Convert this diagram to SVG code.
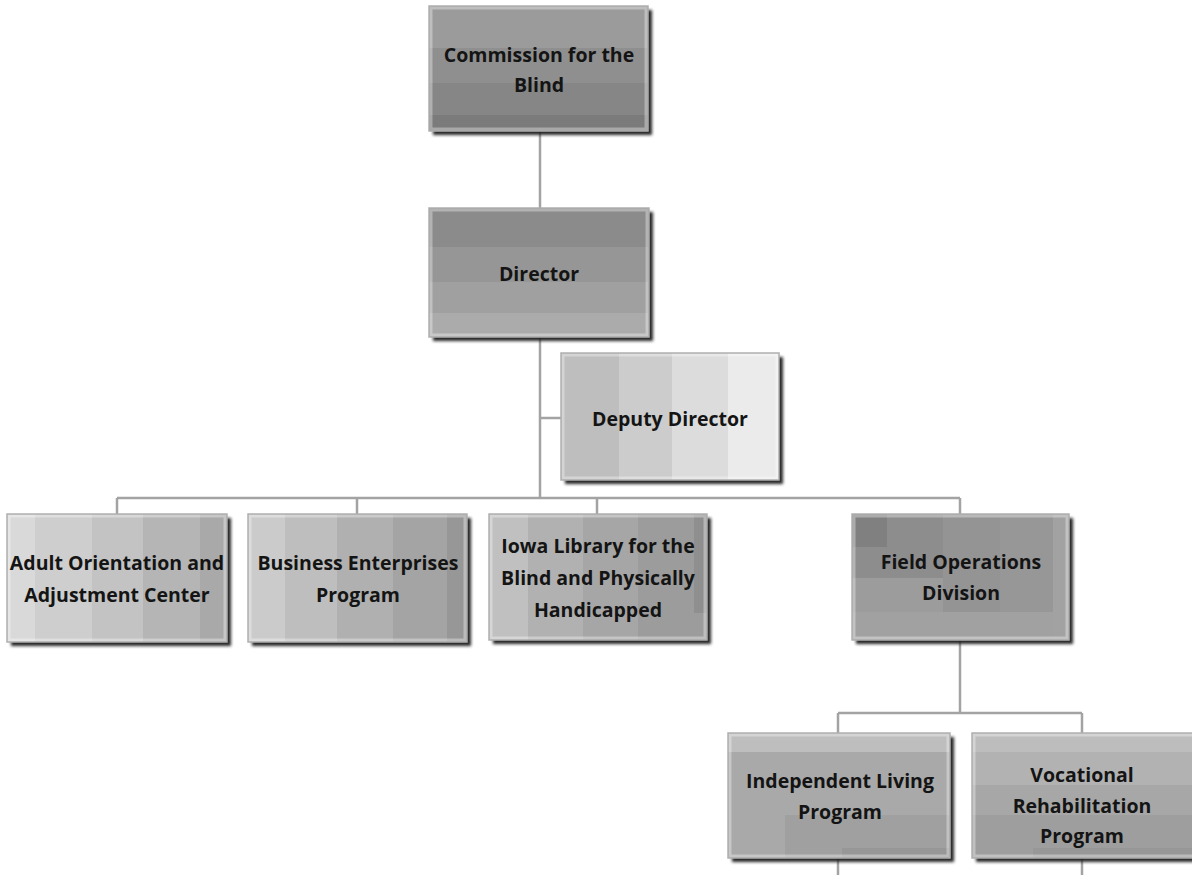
<svg xmlns="http://www.w3.org/2000/svg" width="1192" height="875" viewBox="0 0 1192 875">
<defs>
<filter id="sh" x="-10%" y="-10%" width="130%" height="130%">
<feGaussianBlur in="SourceAlpha" stdDeviation="1.8"/>
<feOffset dx="4" dy="4" result="b"/>
<feFlood flood-color="#1e1e1e" flood-opacity="0.95"/>
<feComposite in2="b" operator="in"/>
</filter>
</defs>
<style>
.sh{fill:#000;filter:url(#sh)}
.hl{fill:none;stroke:#ffffff;stroke-opacity:0.35;stroke-width:3}
.bd{fill:none;stroke:#b0b0b0;stroke-width:1.5}
.t{font-family:"Open Sans","Noto Sans",sans-serif;font-weight:700;font-size:19.5px;fill:#141414;text-anchor:middle}
.c{stroke:#a3a3a3;stroke-width:2.5;fill:none}
</style>
<rect width="1192" height="875" fill="#ffffff"/>

<g id="connectors">
<path class="c" d="M540 131V208M540 337V498M540 418H561M117 498H960M117 498V514M357 498V514M597 498V514M960 498V514M960 640V713M838 713H1082M838 713V733M1082 713V733M838 858V875M1082 858V875"/>
</g>

<g id="commission">
<rect class="sh" x="429" y="6" width="219" height="125"/>
<rect x="429" y="6" width="219" height="42" fill="#9b9b9b"/>
<rect x="429" y="48" width="219" height="35" fill="#8f8f8f"/>
<rect x="429" y="83" width="219" height="32" fill="#868686"/>
<rect x="429" y="115" width="219" height="16" fill="#7b7b7b"/>
<rect class="hl" x="431" y="8" width="215" height="121"/>
<rect class="bd" x="429" y="6" width="219" height="125"/>
<text class="t" x="539" y="62">Commission for the</text>
<text class="t" x="539" y="92">Blind</text>
</g>

<g id="director">
<rect class="sh" x="429" y="208" width="220" height="129"/>
<rect x="429" y="208" width="220" height="39" fill="#8b8b8b"/>
<rect x="429" y="247" width="220" height="35" fill="#969696"/>
<rect x="429" y="282" width="220" height="31" fill="#a0a0a0"/>
<rect x="429" y="313" width="220" height="24" fill="#ababab"/>
<rect class="hl" x="431" y="210" width="216" height="125"/>
<rect class="bd" x="429" y="208" width="220" height="129"/>
<text class="t" x="539" y="281">Director</text>
</g>

<g id="deputy">
<rect class="sh" x="561" y="353" width="218" height="127"/>
<rect x="561" y="353" width="58" height="127" fill="#bebebe"/>
<rect x="619" y="353" width="53" height="127" fill="#cccccc"/>
<rect x="672" y="353" width="56" height="127" fill="#dcdcdc"/>
<rect x="728" y="353" width="51" height="127" fill="#ebebeb"/>
<rect class="hl" x="563" y="355" width="214" height="123"/>
<rect class="bd" x="561" y="353" width="218" height="127"/>
<text class="t" x="670" y="426">Deputy Director</text>
</g>

<g id="adult">
<rect class="sh" x="7" y="514" width="220" height="128"/>
<rect x="7" y="514" width="28" height="128" fill="#d9d9d9"/>
<rect x="35" y="514" width="57" height="128" fill="#cecece"/>
<rect x="92" y="514" width="51" height="128" fill="#c3c3c3"/>
<rect x="143" y="514" width="57" height="128" fill="#b5b5b5"/>
<rect x="200" y="514" width="27" height="128" fill="#a9a9a9"/>
<rect class="hl" x="9" y="516" width="216" height="124"/>
<rect class="bd" x="7" y="514" width="220" height="128"/>
<text class="t" x="117" y="570">Adult Orientation and</text>
<text class="t" x="117" y="602">Adjustment Center</text>
</g>

<g id="business">
<rect class="sh" x="248" y="514" width="219" height="128"/>
<rect x="248" y="514" width="37" height="128" fill="#cbcbcb"/>
<rect x="285" y="514" width="52" height="128" fill="#bebebe"/>
<rect x="337" y="514" width="56" height="128" fill="#b0b0b0"/>
<rect x="393" y="514" width="54" height="128" fill="#a4a4a4"/>
<rect x="447" y="514" width="20" height="128" fill="#979797"/>
<rect class="hl" x="250" y="516" width="215" height="124"/>
<rect class="bd" x="248" y="514" width="219" height="128"/>
<text class="t" x="358" y="570">Business Enterprises</text>
<text class="t" x="358" y="602">Program</text>
</g>

<g id="iowa">
<rect class="sh" x="489" y="514" width="218" height="126"/>
<rect x="489" y="514" width="39" height="126" fill="#c0c0c0"/>
<rect x="528" y="514" width="55" height="126" fill="#b1b1b1"/>
<rect x="583" y="514" width="55" height="126" fill="#a6a6a6"/>
<rect x="638" y="514" width="69" height="126" fill="#9c9c9c"/>
<rect x="694" y="514" width="13" height="99" fill="#8f8f8f"/>
<rect class="hl" x="491" y="516" width="214" height="122"/>
<rect class="bd" x="489" y="514" width="218" height="126"/>
<text class="t" x="598" y="553">Iowa Library for the</text>
<text class="t" x="598" y="585">Blind and Physically</text>
<text class="t" x="598" y="617">Handicapped</text>
</g>

<g id="field">
<rect class="sh" x="852" y="514" width="217" height="126"/>
<rect x="852" y="514" width="217" height="126" fill="#9c9c9c"/>
<rect x="1000" y="514" width="53" height="98" fill="#979797"/>
<rect x="1053" y="514" width="16" height="126" fill="#a2a2a2"/>
<rect x="943" y="514" width="57" height="98" fill="#949494"/>
<rect x="852" y="514" width="91" height="64" fill="#8d8d8d"/>
<rect x="852" y="514" width="35" height="33" fill="#808080"/>
<rect x="852" y="612" width="201" height="28" fill="#a1a1a1"/>
<rect class="hl" x="854" y="516" width="213" height="122"/>
<rect class="bd" x="852" y="514" width="217" height="126"/>
<text class="t" x="961" y="569">Field Operations</text>
<text class="t" x="961" y="600">Division</text>
</g>

<g id="independent">
<rect class="sh" x="728" y="733" width="222" height="125"/>
<rect x="728" y="733" width="222" height="125" fill="#a9a9a9"/>
<rect x="728" y="733" width="222" height="19" fill="#bebebe"/>
<rect x="785" y="815" width="165" height="43" fill="#a0a0a0"/>
<rect x="842" y="848" width="108" height="10" fill="#979797"/>
<rect class="hl" x="730" y="735" width="218" height="121"/>
<rect class="bd" x="728" y="733" width="222" height="125"/>
<text class="t" x="840" y="788">Independent Living</text>
<text class="t" x="840" y="819">Program</text>
</g>

<g id="vocational">
<rect class="sh" x="972" y="733" width="226" height="125"/>
<rect x="972" y="733" width="226" height="19" fill="#bdbdbd"/>
<rect x="972" y="752" width="226" height="33" fill="#b2b2b2"/>
<rect x="972" y="785" width="226" height="30" fill="#a7a7a7"/>
<rect x="972" y="815" width="226" height="43" fill="#9e9e9e"/>
<rect x="1033" y="848" width="165" height="10" fill="#979797"/>
<rect class="hl" x="974" y="735" width="222" height="121"/>
<rect class="bd" x="972" y="733" width="226" height="125"/>
<text class="t" x="1082" y="782">Vocational</text>
<text class="t" x="1082" y="813">Rehabilitation</text>
<text class="t" x="1082" y="843">Program</text>
</g>
</svg>
